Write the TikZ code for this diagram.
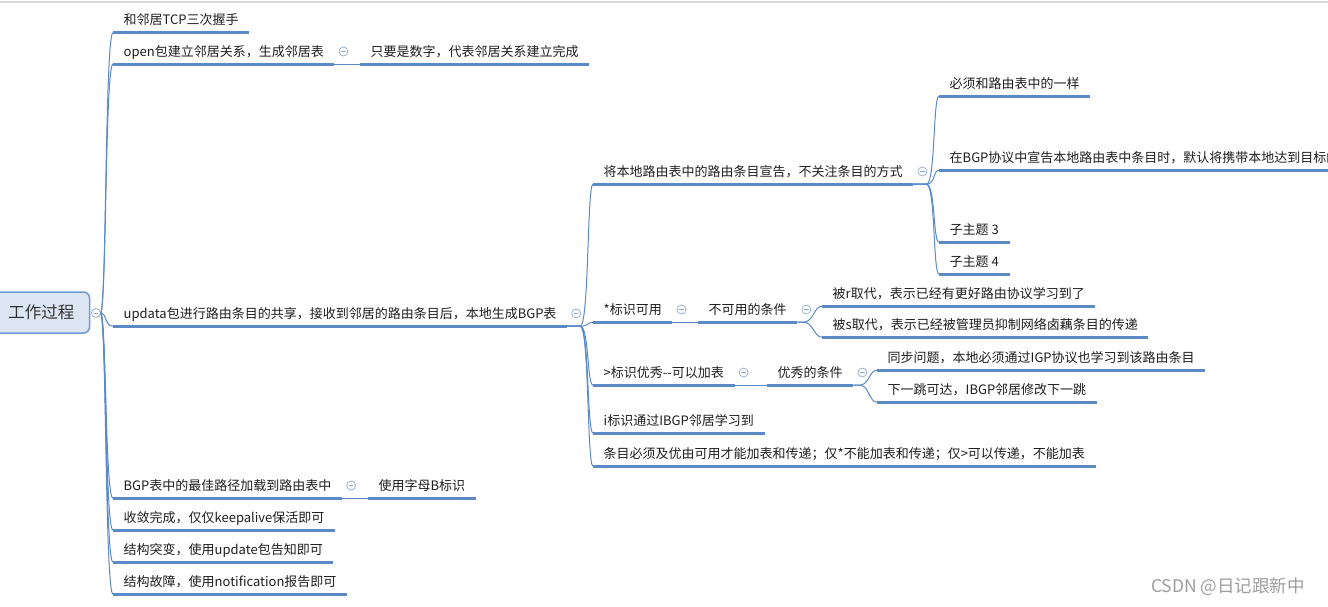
\documentclass[tikz,border=0pt]{standalone}
\usepackage{fontspec}
\newfontfamily\cjk{Noto Sans CJK SC}
\definecolor{lineblue}{HTML}{5B8AC6}
\definecolor{iconc}{HTML}{8FA9CF}
\definecolor{rootfill}{HTML}{DCE6F2}
\definecolor{rootdraw}{HTML}{6D9AD0}
\definecolor{txt}{HTML}{1E1E1E}
\begin{document}
\begin{tikzpicture}[x=1pt,y=-1pt,
  topic/.style={anchor=west, inner xsep=10.5pt, inner ysep=6pt, text height=11.44pt, text depth=1.56pt,
    font=\cjk\fontsize{13}{15}\selectfont, text=txt},
  rootbox/.style={rounded corners=6pt, minimum width=96pt, minimum height=41pt, fill=rootfill, draw=rootdraw,
    line width=1.5pt, font=\cjk\fontsize{16.5}{18}\selectfont, text=black!80},
  uline/.style={draw=lineblue, line width=3pt},
  conn/.style={draw=lineblue, line width=1pt},
  fold/.style={circle, draw=iconc, line width=0.7pt, minimum size=9pt, inner sep=0pt,
    path picture={\draw[iconc, line width=0.7pt] ([xshift=-2.2pt]path picture bounding box.center) -- ([xshift=2.2pt]path picture bounding box.center);}},
  wmark/.style={font=\cjk\fontsize{17.5}{19}\selectfont, text=black!38}
]
\useasboundingbox (0,0) rectangle (1328,606);
\clip (0,0) rectangle (1328,606);
\fill[white] (0,0) rectangle (1328,606);
\draw[black!15, line width=2pt] (0,2) -- (1328,2);

% root
\node[rootbox] (root) at (41.5,312.5) {工作过程};
\node[fold] (f0) at (96,313) {};
\coordinate (r0) at (100.5,313);

% level 1
\node[topic] (t1) at (113,20) {和邻居TCP三次握手};
\node[topic] (t2) at (113,51.5) {open包建立邻居关系，生成邻居表};
\node[topic] (t3) at (113,313.5) {updata包进行路由条目的共享，接收到邻居的路由条目后，本地生成BGP表};
\node[topic] (t4) at (113,485.5) {BGP表中的最佳路径加载到路由表中};
\node[topic] (t5) at (113,517.5) {收敛完成，仅仅keepalive保活即可};
\node[topic] (t6) at (113,549.5) {结构突变，使用update包告知即可};
\node[topic] (t7) at (113,581.5) {结构故障，使用notification报告即可};

\node[topic] (s2) at (360,51.5) {只要是数字，代表邻居关系建立完成};
\node[topic] (s4) at (368,485.5) {使用字母B标识};

% level 2
\node[topic] (a) at (593,171.5) {将本地路由表中的路由条目宣告，不关注条目的方式};
\node[topic] (b) at (593,309.5) {*标识可用};
\node[topic] (c) at (593,372.5) {>标识优秀-{}-可以加表};
\node[topic] (d) at (593,420.5) {i标识通过IBGP邻居学习到};
\node[topic] (e) at (593,453.5) {条目必须及优由可用才能加表和传递；仅*不能加表和传递；仅>可以传递，不能加表};

\node[topic] (b1) at (698,309.5) {不可用的条件};
\node[topic] (c1) at (767,372.5) {优秀的条件};

% level 3
\node[topic] (a1) at (939,83.5) {必须和路由表中的一样};
\node[topic] (a2) at (939,157.5) {在BGP协议中宣告本地路由表中条目时，默认将携带本地达到目标的};
\node[topic] (a3) at (939,229.5) {子主题 3};
\node[topic] (a4) at (939,261.5) {子主题 4};

\node[topic] (b11) at (822,293.5) {被r取代，表示已经有更好路由协议学习到了};
\node[topic] (b12) at (822,324.5) {被s取代，表示已经被管理员抑制网络卤藕条目的传递};
\node[topic] (c11) at (877,357.5) {同步问题，本地必须通过IGP协议也学习到该路由条目};
\node[topic] (c12) at (877,389.5) {下一跳可达，IBGP邻居修改下一跳};

% underlines
\foreach \n in {t1,t2,t3,t4,t5,t6,t7,s2,s4,a,b,c,d,e,b1,c1,a1,a2,a3,a4,b11,b12,c11,c12}
  \draw[uline] (\n.south west) -- (\n.south east);

% fold icons
\foreach \n in {t2,t3,t4,a,b,c,b1,c1}
  \node[fold] (f-\n) at ([xshift=9pt]\n.east) {};

% connectors
\foreach \n in {t1,t2,t3,t4,t5,t6,t7}
  \draw[conn] (r0) .. controls +(6,0) and +(-8,0) .. (\n.south west);
\draw[conn] (t2.south east) -- (s2.south west);
\draw[conn] (t4.south east) -- (s4.south west);
\foreach \n in {a,b,c,d,e}
  \draw[conn] (t3.south east) -- ++(13,0) .. controls +(9,0) and +(-6,0) .. (\n.south west);
\foreach \n in {a1,a2,a3,a4}
  \draw[conn] (a.south east) -- ++(13,0) .. controls +(9,0) and +(-6,0) .. (\n.south west);
\draw[conn] (b.south east) -- (b1.south west);
\draw[conn] (c.south east) -- (c1.south west);
\foreach \n in {b11,b12}
  \draw[conn] (b1.south east) -- ++(6,0) .. controls +(10,0) and +(-8,0) .. (\n.south west);
\foreach \n in {c11,c12}
  \draw[conn] (c1.south east) -- ++(6,0) .. controls +(10,0) and +(-8,0) .. (\n.south west);

% watermark
\node[wmark] (wm) at (1228,587) {CSDN @日记跟新中};
\end{tikzpicture}
\end{document}
